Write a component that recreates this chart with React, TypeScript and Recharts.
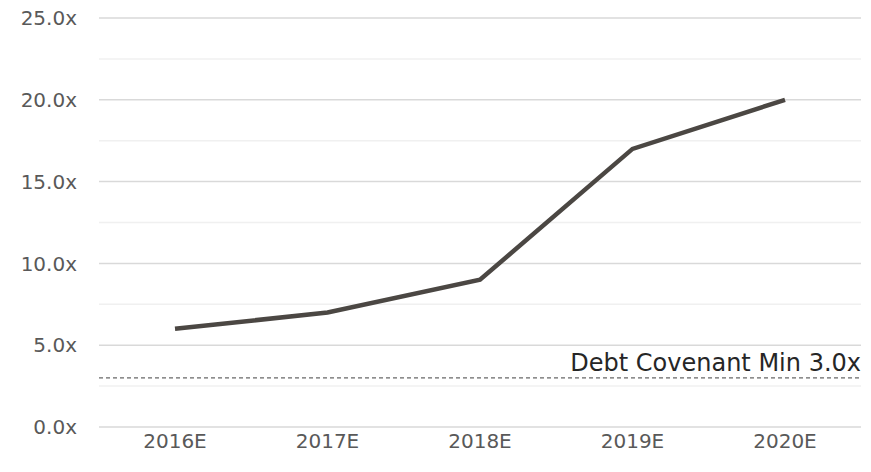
import React from "react";
import {
  LineChart,
  Line,
  XAxis,
  YAxis,
  CartesianGrid,
  ReferenceLine,
} from "recharts";

// Interest coverage forecast
const years = ["2016E", "2017E", "2018E", "2019E", "2020E"];
const coverage = [6.0, 7.0, 9.0, 17.0, 20.0];
const covenantMin = 3.0;
const covenantLabel = "Debt Covenant Min 3.0x";
const majorTicks = [0, 5, 10, 15, 20, 25];
const minorTicks = [2.5, 7.5, 12.5, 17.5, 22.5];

const chartData = years.map((year, i) => ({ year, coverage: coverage[i] }));

const FONT = "'DejaVu Sans', sans-serif";

const CovenantLabel = (props: any) => {
  const { viewBox } = props;
  if (!viewBox) return null;
  return (
    <text
      x={viewBox.x + viewBox.width}
      y={viewBox.y - 7}
      textAnchor="end"
      fill="#262626"
      fontSize={24}
      fontFamily={FONT}
    >
      {covenantLabel}
    </text>
  );
};

export default function App() {
  return (
    <div style={{ position: "absolute", left: 0, top: 0, width: 871, height: 472, background: "#fff" }}>
      <LineChart
        width={871}
        height={472}
        data={chartData}
        margin={{ top: 18, right: 10, left: 0, bottom: 0 }}
      >
        {/* minor gridlines */}
        <CartesianGrid
          vertical={false}
          horizontalValues={minorTicks}
          stroke="#f0f0f0"
          strokeWidth={1.5}
        />
        {/* major gridlines */}
        <CartesianGrid
          vertical={false}
          horizontalValues={majorTicks}
          stroke="#d9d9d9"
          strokeWidth={1.5}
        />
        <XAxis
          dataKey="year"
          axisLine={false}
          tickLine={false}
          tickSize={0}
          tickMargin={7}
          height={45}
          padding={{ left: 76, right: 76 }}
          tick={{ fill: "#595959", fontSize: 20, fontFamily: FONT }}
        />
        <YAxis
          domain={[0, 25]}
          ticks={majorTicks}
          width={99}
          axisLine={false}
          tickLine={false}
          tickSize={0}
          tickMargin={22}
          tickFormatter={(v: number) => `${v.toFixed(1)}x`}
          tick={{ fill: "#595959", fontSize: 20, fontFamily: FONT }}
        />
        <ReferenceLine
          y={covenantMin}
          stroke="#404040"
          strokeWidth={1}
          strokeDasharray="4 3"
          label={<CovenantLabel />}
        />
        <Line
          type="linear"
          dataKey="coverage"
          stroke="#4b4743"
          strokeWidth={4.5}
          dot={false}
          activeDot={false}
          isAnimationActive={false}
        />
      </LineChart>
    </div>
  );
}
